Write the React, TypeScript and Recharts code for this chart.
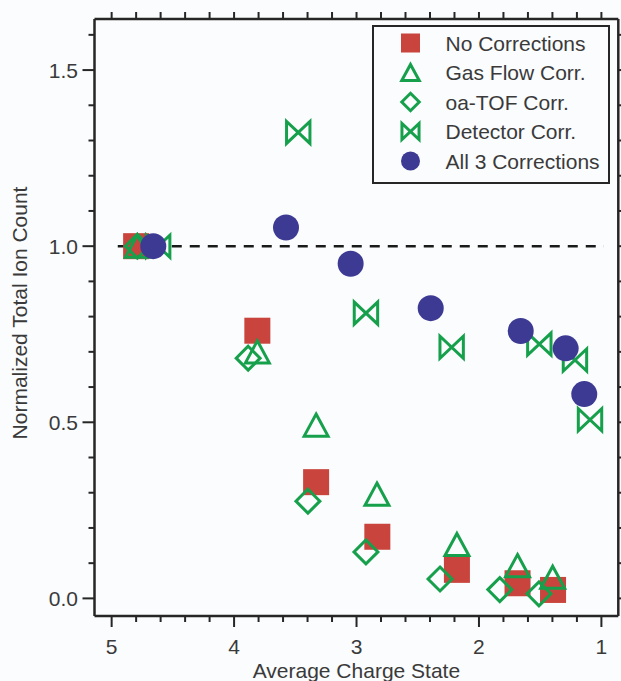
import React from 'react';
import { ScatterChart, Scatter, XAxis, YAxis, ReferenceLine, Legend } from 'recharts';

const RED = '#C8443C';
const GREEN = '#17A04C';
const NAVY = '#3D3A94';
const INK = '#262626';
const TEXT = '#3a3a3a';
const FONT = '"Liberation Sans", Arial, Helvetica, sans-serif';

const seriesNames = ['No Corrections', 'Gas Flow Corr.', 'oa-TOF Corr.', 'Detector Corr.', 'All 3 Corrections'];

const noCorrCharge = [4.8, 3.81, 3.33, 2.83, 2.18, 1.685, 1.395];
const noCorrCount = [1.0, 0.76, 0.33, 0.175, 0.081, 0.043, 0.024];

const gasFlowCharge = [4.79, 3.81, 3.33, 2.833, 2.18, 1.685, 1.398];
const gasFlowCount = [1.0, 0.7, 0.492, 0.296, 0.153, 0.093, 0.06];

const oaTofCharge = [4.79, 3.885, 3.397, 2.923, 2.318, 1.83, 1.51];
const oaTofCount = [1.0, 0.682, 0.276, 0.132, 0.055, 0.025, 0.013];

const detectorCharge = [4.62, 3.476, 2.923, 2.223, 1.507, 1.216, 1.093];
const detectorCount = [1.0, 1.323, 0.81, 0.713, 0.722, 0.677, 0.507];

const allCharge = [4.66, 3.576, 3.048, 2.394, 1.659, 1.292, 1.14];
const allCount = [1.0, 1.053, 0.95, 0.824, 0.759, 0.71, 0.58];

const xTicks = [5, 4.8, 4.6, 4.4, 4.2, 4, 3.8, 3.6, 3.4, 3.2, 3, 2.8, 2.6, 2.4, 2.2, 2, 1.8, 1.6, 1.4, 1.2, 1];
const yTicks = [0, 0.1, 0.2, 0.3, 0.4, 0.5, 0.6, 0.7, 0.8, 0.9, 1.0, 1.1, 1.2, 1.3, 1.4, 1.5, 1.6];

const xDomain = [0.862, 5.14];
const yDomain = [-0.05, 1.645];
const refLevel = 1.0;
const refFrom = 4.95;
const refTo = 0.98;

const toPoints = (xs: number[], ys: number[]) => xs.map((x, i) => ({ x, y: ys[i] }));

const noCorrData = toPoints(noCorrCharge, noCorrCount);
const gasFlowData = toPoints(gasFlowCharge, gasFlowCount);
const oaTofData = toPoints(oaTofCharge, oaTofCount);
const detectorData = toPoints(detectorCharge, detectorCount);
const allData = toPoints(allCharge, allCount);

type Kind = 'square' | 'triangle' | 'diamond' | 'bowtie' | 'circle';

function marker(kind: Kind, cx: number, cy: number, s: number, key?: string) {
  // s = nominal half size
  switch (kind) {
    case 'square':
      return <rect key={key} x={cx - s} y={cy - s} width={2 * s} height={2 * s} fill={RED} />;
    case 'triangle': {
      const hw = s * 0.92;
      const hh = s * 0.85;
      return (
        <polygon
          key={key}
          points={`${cx},${cy - hh} ${cx + hw},${cy + hh} ${cx - hw},${cy + hh}`}
          fill="none"
          stroke={GREEN}
          strokeWidth={3}
          strokeLinejoin="miter"
        />
      );
    }
    case 'diamond': {
      const h = s * 0.92;
      return (
        <polygon
          key={key}
          points={`${cx},${cy - h} ${cx + h},${cy} ${cx},${cy + h} ${cx - h},${cy}`}
          fill="none"
          stroke={GREEN}
          strokeWidth={3}
        />
      );
    }
    case 'bowtie': {
      const hw = s * 0.9;
      const hh = s * 0.85;
      return (
        <path
          key={key}
          d={`M${cx - hw},${cy - hh} L${cx - hw},${cy + hh} L${cx + hw},${cy - hh} L${cx + hw},${cy + hh} Z`}
          fill="none"
          stroke={GREEN}
          strokeWidth={3}
          strokeLinejoin="miter"
        />
      );
    }
    default:
      return <circle key={key} cx={cx} cy={cy} r={s} fill={NAVY} />;
  }
}

const shapeFor = (kind: Kind) => (props: any) => {
  const { cx, cy } = props;
  if (cx == null || cy == null) return <g />;
  return marker(kind, cx, cy, 13);
};

const legendKinds: Kind[] = ['square', 'triangle', 'diamond', 'bowtie', 'circle'];

const LegendBox = () => {
  const w = 238;
  const h = 159;
  return (
    <svg width={w} height={h} style={{ display: 'block' }}>
      <rect x={1} y={1} width={w - 2} height={h - 2} fill="none" stroke={INK} strokeWidth={2} />
      {seriesNames.map((name, i) => {
        const cy = 18 + i * 29.5;
        return (
          <g key={name}>
            {marker(legendKinds[i], 38.5, cy, 9.5)}
            <text x={73.5} y={cy + 7.6} fontFamily={FONT} fontSize={21} fill={TEXT}>
              {name}
            </text>
          </g>
        );
      })}
    </svg>
  );
};

const isInt = (v: number) => Math.abs(v - Math.round(v)) < 1e-6;
const isHalf = (v: number) => Math.abs(v * 2 - Math.round(v * 2)) < 1e-6;

const BottomTick = (props: any) => {
  const { x, y, payload } = props;
  const v = payload.value as number;
  const major = isInt(v);
  return (
    <g>
      <line x1={x} x2={x} y1={y} y2={y + (major ? 11 : 6)} stroke={INK} strokeWidth={2} />
      {major && (
        <text x={x} y={y + 38} textAnchor="middle" fontFamily={FONT} fontSize={21} fill={TEXT}>
          {String(Math.round(v))}
        </text>
      )}
    </g>
  );
};

const TopTick = (props: any) => {
  const { x, y } = props;
  return <line x1={x} x2={x} y1={y} y2={y - 7} stroke={INK} strokeWidth={2} />;
};

const LeftTick = (props: any) => {
  const { x, y, payload } = props;
  const v = payload.value as number;
  const major = isHalf(v);
  return (
    <g>
      <line x1={x - (major ? 12 : 6)} x2={x} y1={y} y2={y} stroke={INK} strokeWidth={2} />
      {major && (
        <text x={x - 16.5} y={y + 7.5} textAnchor="end" fontFamily={FONT} fontSize={21} fill={TEXT}>
          {v.toFixed(1)}
        </text>
      )}
    </g>
  );
};

const RightTick = (props: any) => {
  const { x, y, payload } = props;
  const v = payload.value as number;
  const major = isHalf(v);
  return <line x1={x} x2={x + (major ? 12 : 6)} y1={y} y2={y} stroke={INK} strokeWidth={2} />;
};

const XTitle = (props: any) => {
  const vb = props.viewBox || { x: 94.5, y: 616, width: 524, height: 65 };
  return (
    <text
      x={vb.x + vb.width / 2}
      y={vb.y + vb.height - 3}
      textAnchor="middle"
      fontFamily={FONT}
      fontSize={21}
      fill={TEXT}
    >
      Average Charge State
    </text>
  );
};

const YTitle = (props: any) => {
  const vb = props.viewBox || { x: 0, y: 19, width: 94.5, height: 597 };
  const cx = vb.x + 19.5;
  const cy = vb.y + vb.height / 2 - 4.5;
  return (
    <text
      x={cx}
      y={cy}
      transform={`rotate(-90, ${cx}, ${cy})`}
      textAnchor="middle"
      dominantBaseline="central"
      fontFamily={FONT}
      fontSize={21}
      fill={TEXT}
    >
      Normalized Total Ion Count
    </text>
  );
};

export default function App() {
  return (
    <div
      style={{
        position: 'absolute',
        left: 0,
        top: 0,
        width: 621,
        height: 681,
        background: '#fafcfd',
        overflow: 'hidden',
      }}
    >
      <ScatterChart width={621} height={681} margin={{ top: 0, right: 0, bottom: 0, left: 0 }}>
        <XAxis
          xAxisId="b"
          dataKey="x"
          type="number"
          domain={xDomain}
          reversed
          allowDataOverflow
          ticks={xTicks}
          interval={0}
          tickSize={0}
          tickMargin={0}
          tick={<BottomTick />}
          tickLine={false}
          axisLine={{ stroke: INK, strokeWidth: 2.5 }}
          height={65}
          orientation="bottom"
          label={<XTitle />}
        />
        <XAxis
          xAxisId="t"
          dataKey="x"
          type="number"
          domain={xDomain}
          reversed
          allowDataOverflow
          ticks={xTicks}
          interval={0}
          tickSize={0}
          tickMargin={0}
          tick={<TopTick />}
          tickLine={false}
          axisLine={{ stroke: INK, strokeWidth: 2.5 }}
          height={19}
          orientation="top"
        />
        <YAxis
          yAxisId="l"
          dataKey="y"
          type="number"
          domain={yDomain}
          allowDataOverflow
          ticks={yTicks}
          interval={0}
          tickSize={0}
          tickMargin={0}
          tick={<LeftTick />}
          tickLine={false}
          axisLine={{ stroke: INK, strokeWidth: 2.5 }}
          width={94.5}
          orientation="left"
          label={<YTitle />}
        />
        <YAxis
          yAxisId="r"
          dataKey="y"
          type="number"
          domain={yDomain}
          allowDataOverflow
          ticks={yTicks}
          interval={0}
          tickSize={0}
          tickMargin={0}
          tick={<RightTick />}
          tickLine={false}
          axisLine={{ stroke: INK, strokeWidth: 2.5 }}
          width={2.7}
          orientation="right"
        />
        <ReferenceLine
          xAxisId="b"
          yAxisId="l"
          segment={[
            { x: refFrom, y: refLevel },
            { x: refTo, y: refLevel },
          ]}
          stroke="#1a1a1a"
          strokeWidth={2.5}
          strokeDasharray="10 8"
        />
        <Scatter
          name={seriesNames[0]}
          data={noCorrData}
          xAxisId="b"
          yAxisId="l"
          shape={shapeFor('square')}
          isAnimationActive={false}
        />
        <Scatter
          name={seriesNames[1]}
          data={gasFlowData}
          xAxisId="b"
          yAxisId="l"
          shape={shapeFor('triangle')}
          isAnimationActive={false}
        />
        <Scatter
          name={seriesNames[2]}
          data={oaTofData}
          xAxisId="b"
          yAxisId="l"
          shape={shapeFor('diamond')}
          isAnimationActive={false}
        />
        <Scatter
          name={seriesNames[3]}
          data={detectorData}
          xAxisId="b"
          yAxisId="l"
          shape={shapeFor('bowtie')}
          isAnimationActive={false}
        />
        <Scatter
          name={seriesNames[4]}
          data={allData}
          xAxisId="b"
          yAxisId="l"
          shape={shapeFor('circle')}
          isAnimationActive={false}
        />
        <Scatter data={[]} xAxisId="t" yAxisId="r" isAnimationActive={false} legendType="none" />
        <Legend
          layout="vertical"
          align="center"
          verticalAlign="middle"
          width={238}
          height={159}
          wrapperStyle={{ left: 371.5, top: 25, width: 238, height: 159, margin: 0, padding: 0 }}
          content={<LegendBox />}
        />
      </ScatterChart>
    </div>
  );
}
